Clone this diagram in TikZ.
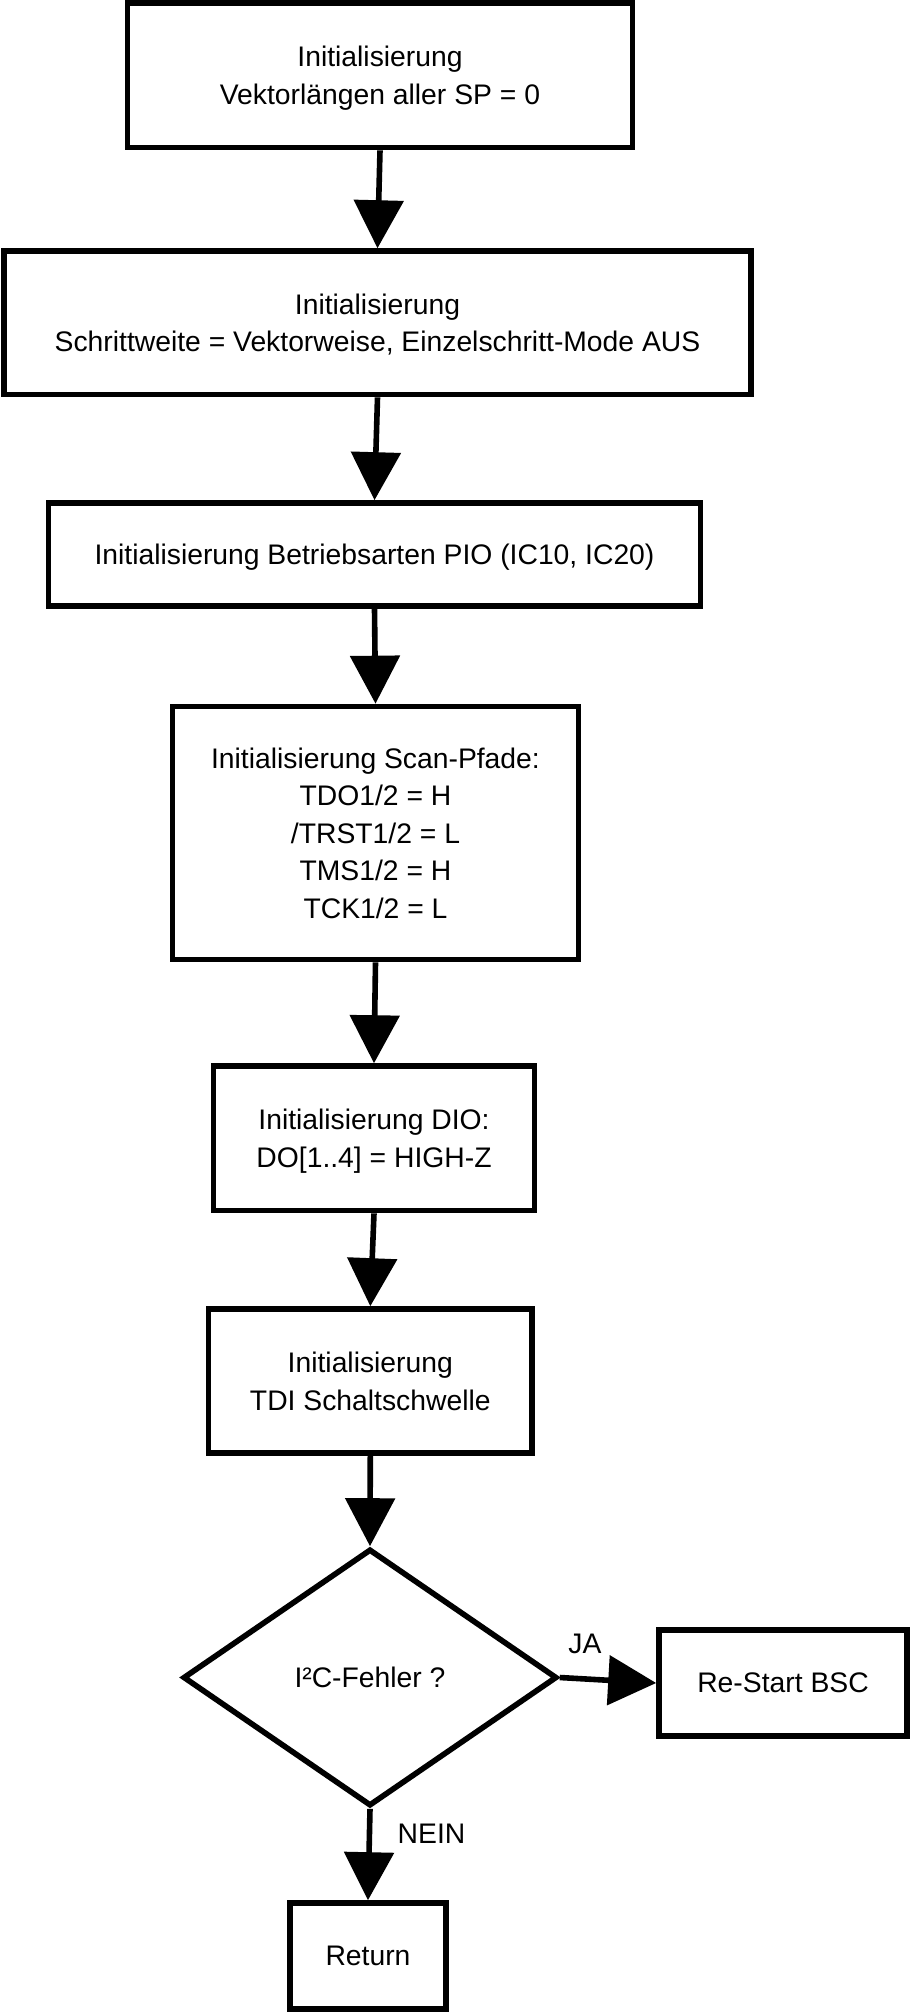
\documentclass[tikz,border=0pt]{standalone}
\usepackage{fontspec}
\setmainfont{Liberation Sans}
\usetikzlibrary{arrows.meta,shapes.geometric}

\tikzset{
  stepbox/.style={draw, line width=2.8pt, align=center, inner sep=0pt, text depth=-3.5pt},
  decisionbox/.style={draw, diamond, line width=2.8pt, inner sep=0pt, text depth=-3.5pt},
  flow/.style={line width=2.8pt, -{Triangle[width=24.5pt,length=24pt]}},
}

\begin{document}
\begin{tikzpicture}[x=0.5pt,y=-0.5pt,font=\fontsize{14.15pt}{18.75pt}\selectfont]
    \useasboundingbox (0,0) rectangle (910,2012);
    % Draw the boxes
    \node[stepbox, minimum width=252.5pt, minimum height=72.25pt] (initsp) at (380,75.3) {Initialisierung\\Vektorlängen aller SP = 0};
    \node[stepbox, minimum width=373.5pt, minimum height=71.75pt] (initstep) at (377.5,322.8) {Initialisierung\\Schrittweite = Vektorweise, Einzelschritt-Mode AUS};
    \node[stepbox, minimum width=326pt, minimum height=51.5pt] (initpio) at (374.5,554.5) {Initialisierung Betriebsarten PIO (IC10, IC20)};
    \node[stepbox, minimum width=203pt, minimum height=126.5pt] (initscan) at (375.5,833) {Initialisierung Scan-Pfade:\\TDO1/2 = H\\/TRST1/2 = L\\TMS1/2 = H\\TCK1/2 = L};
    \node[stepbox, minimum width=160.5pt, minimum height=72.25pt] (initdio) at (374,1138.3) {Initialisierung DIO:\\DO[1..4] = HIGH-Z};
    \node[stepbox, minimum width=161.75pt, minimum height=72pt] (inittdi) at (370.3,1381) {Initialisierung\\TDI Schaltschwelle};
    \node[decisionbox, minimum width=187pt, minimum height=128.5pt] (i2ccheck) at (370,1677.5) {I²C-Fehler ?};
    \node[stepbox, minimum width=124pt, minimum height=53.25pt] (restart) at (783,1683) {Re-Start BSC};
    \node[stepbox, minimum width=78pt, minimum height=53pt] (ret) at (368,1956) {Return};
    % Labels of the branches
    \node (ja) at (585,1643.5) {JA};
    \node (nein) at (431.5,1834) {NEIN};
    % Draw the arrows
    \draw[flow] (initsp.south) -- (initstep.north);
    \draw[flow] (initstep.south) -- (initpio.north);
    \draw[flow] (initpio.south) -- (initscan.north);
    \draw[flow] (initscan.south) -- (initdio.north);
    \draw[flow] (initdio.south) -- (inittdi.north);
    \draw[flow] (inittdi.south) -- (i2ccheck.north);
    \draw[flow] (i2ccheck.east) -- (restart.west);
    \draw[flow] (i2ccheck.south) -- (ret.north);
\end{tikzpicture}
\end{document}
